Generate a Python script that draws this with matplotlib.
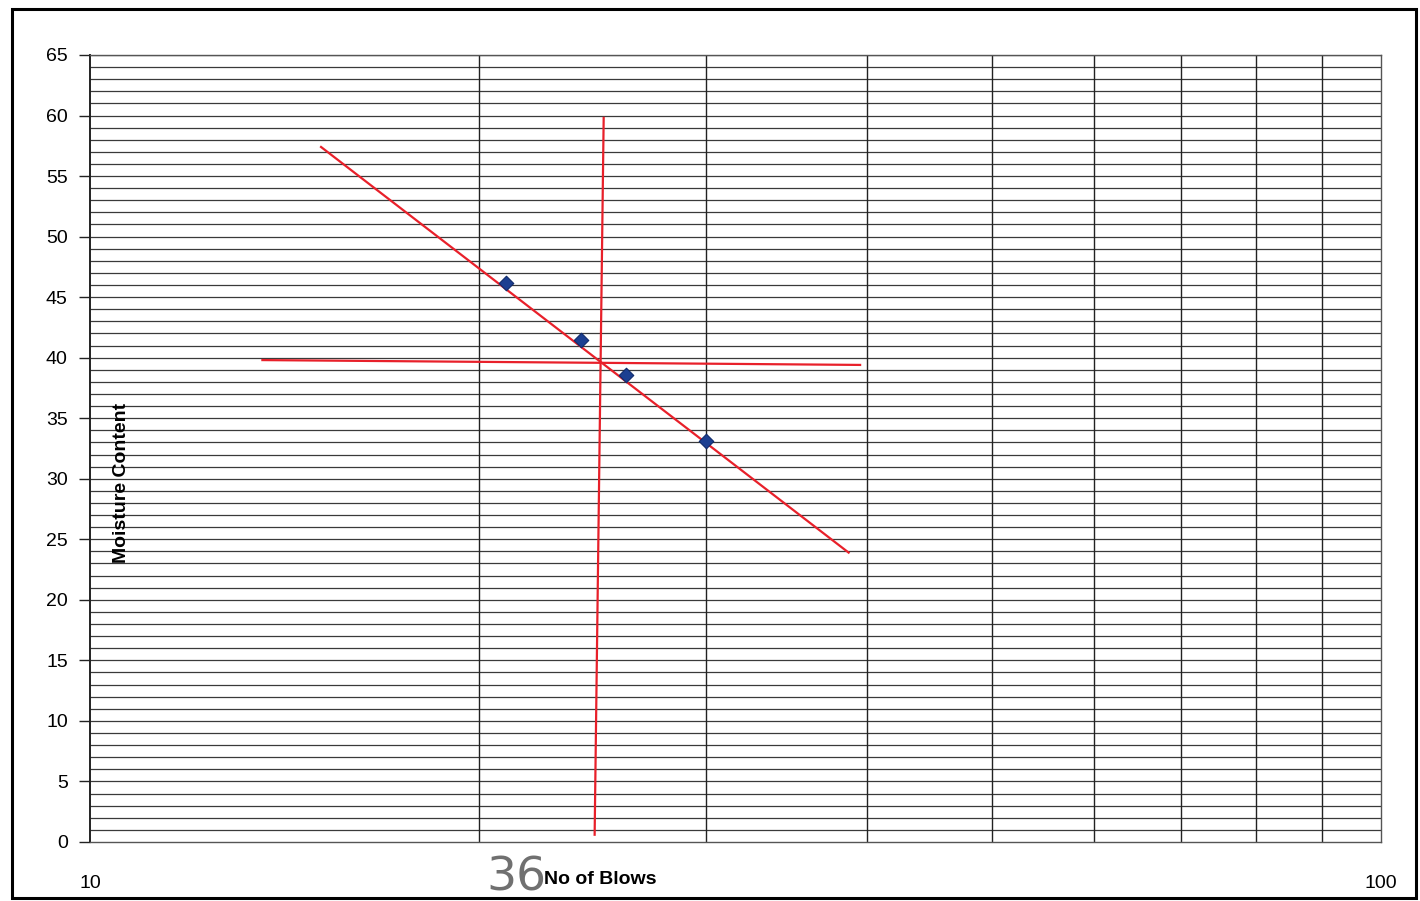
import numpy as np
import matplotlib.pyplot as plt
import matplotlib as mpl
from matplotlib.patches import Rectangle

mpl.rcParams['font.family'] = ['Liberation Sans', 'DejaVu Sans']
mpl.rcParams['font.size'] = 14

# liquid limit test points
blows = [21, 24, 26, 30]
moisture = [46.2, 41.5, 38.6, 33.1]

# hand-drawn red construction lines (flow line, 25 blows, moisture at 25 blows)
flow_x = [15.1, 38.7]
flow_y = [57.4, 23.9]
vert_x = [25.0, 24.6]
vert_y = [59.8, 0.6]
horiz_x = [13.6, 39.5]
horiz_y = [39.8, 39.4]

y_ticks = list(range(0, 70, 5))
x_ticks = [10, 100]

fig = plt.figure(figsize=(14.2, 9.01), dpi=100)
ax = fig.add_axes([0.0634, 0.0655, 0.909, 0.8735])

ax.set_xscale('log')
ax.set_xlim(10, 100)
ax.set_ylim(0, 65)

# graph-paper grid
for yy in range(1, 66):
    ax.axhline(yy, color='#3a3a3a', lw=0.9, zorder=1)
for xx in range(20, 100, 10):
    ax.axvline(xx, color='#222222', lw=1.0, zorder=1)

ax.plot(flow_x, flow_y, color='#e8202a', lw=1.6, zorder=3)
ax.plot(vert_x, vert_y, color='#e8202a', lw=1.6, zorder=3)
ax.plot(horiz_x, horiz_y, color='#e8202a', lw=1.6, zorder=3)

ax.scatter(blows, moisture, marker='D', s=55, color='#1c3f91',
           edgecolor='#0f2a6b', linewidth=0.8, zorder=4)

ax.set_yticks(y_ticks)
ax.set_xticks(x_ticks)
ax.set_xticklabels([str(v) for v in x_ticks])
ax.xaxis.set_minor_locator(mpl.ticker.NullLocator())
ax.tick_params(axis='y', length=8, width=1, color='#222222', pad=8)
ax.tick_params(axis='x', length=0, pad=24)

for side in ['top', 'right', 'bottom']:
    ax.spines[side].set_color('#555555')
    ax.spines[side].set_linewidth(1.0)
ax.spines['left'].set_color('#222222')
ax.spines['left'].set_linewidth(1.4)

ax.text(0.024, 0.456, 'Moisture Content', transform=ax.transAxes, rotation=90,
        ha='center', va='center', fontweight='bold', fontsize=14,
        family='Liberation Sans')
fig.text(0.423, 0.024, 'No of Blows', ha='center', va='center',
         fontweight='bold', fontsize=14, family='Liberation Sans')

# stamp number on the scanned sheet
fig.text(0.3635, 0.025, '36', ha='center', va='center', fontsize=34,
         color='#707070', family='Liberation Sans Narrow', zorder=0)

# outer frame around the chart
fig.patches.append(Rectangle((0.0085, 0.0035), 0.989, 0.986, transform=fig.transFigure,
                             fill=False, edgecolor='black', lw=2.2))

plt.savefig('out.png', dpi=100)
